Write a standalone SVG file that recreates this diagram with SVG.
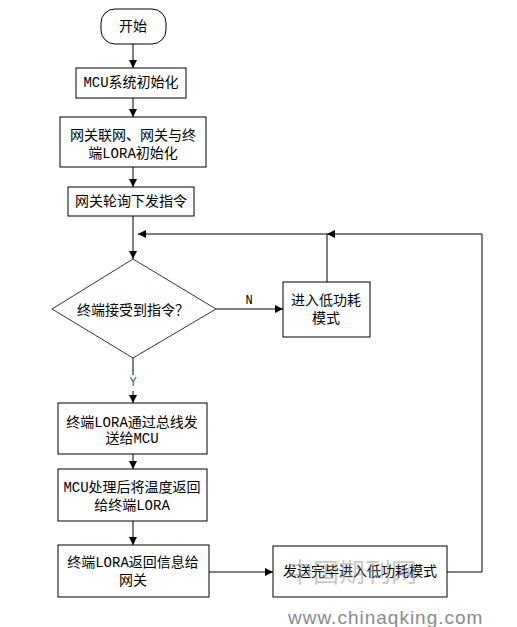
<svg xmlns="http://www.w3.org/2000/svg" width="517" height="627" viewBox="0 0 517 627">
<defs>
<marker id="ah" viewBox="0 0 8 8" refX="8" refY="4" markerWidth="8" markerHeight="8" markerUnits="userSpaceOnUse" orient="auto">
<path d="M0,0 L8,4 L0,8 z" fill="#000"/>
</marker>
</defs>
<style>
.box{fill:#fff;stroke:#000;stroke-width:1}
.t{font-family:"Liberation Mono","Noto Sans CJK SC",monospace;font-size:14px;fill:#000;text-anchor:middle;dominant-baseline:central}
.ln{fill:none;stroke:#000;stroke-width:1}
.lbl{font-family:"Liberation Mono",monospace;font-size:12px;text-anchor:middle;dominant-baseline:central}
.wm{font-family:"Liberation Sans","Noto Sans CJK SC",sans-serif;fill:#8a8a8a}
</style>
<rect width="517" height="627" fill="#fff"/>
<g id="connectors">
<line class="ln" x1="133" y1="44" x2="133" y2="68" marker-end="url(#ah)"/>
<line class="ln" x1="133" y1="98" x2="133" y2="117" marker-end="url(#ah)"/>
<line class="ln" x1="133" y1="167" x2="133" y2="187" marker-end="url(#ah)"/>
<line class="ln" x1="133" y1="216" x2="133" y2="259" marker-end="url(#ah)"/>
<line class="ln" x1="216" y1="309" x2="283" y2="309" marker-end="url(#ah)"/>
<line class="ln" x1="133" y1="358" x2="133" y2="403" marker-end="url(#ah)"/>
<line class="ln" x1="133" y1="454" x2="133" y2="469" marker-end="url(#ah)"/>
<line class="ln" x1="133" y1="521" x2="133" y2="545" marker-end="url(#ah)"/>
<line class="ln" x1="208" y1="572" x2="273" y2="572" marker-end="url(#ah)"/>
<polyline class="ln" points="447,572 482,572 482,234 327,234" marker-end="url(#ah)"/>
<polyline class="ln" points="327,282 327,234 138,234" marker-end="url(#ah)"/>
<rect x="244" y="295" width="11" height="13" fill="#fff"/>
<text class="lbl" x="249" y="301" fill="#000">N</text>
<rect x="127" y="375" width="12" height="16" fill="#fff"/>
<text class="lbl" x="133" y="383" fill="#1f5f99">Y</text>
</g>
<g id="start">
<rect class="box" x="101" y="9" width="65" height="35" rx="14" ry="14"/>
<text class="t" x="133" y="27">开始</text>
</g>
<g id="mcu-init">
<rect class="box" x="76" y="68" width="110" height="30"/>
<text class="t" x="131" y="83">MCU系统初始化</text>
</g>
<g id="gw-init">
<rect class="box" x="60" y="117" width="146" height="50"/>
<text class="t" x="133" y="136">网关联网、网关与终</text>
<text class="t" x="133" y="154">端LORA初始化</text>
</g>
<g id="poll">
<rect class="box" x="68" y="187" width="126" height="29"/>
<text class="t" x="131" y="202">网关轮询下发指令</text>
</g>
<g id="decision">
<polygon points="133,259 216,309 133,358 52,309" fill="#fff" stroke="#333" stroke-width="1"/>
<text class="t" x="133" y="311">终端接受到指令？</text>
</g>
<g id="lowpower">
<rect class="box" x="283" y="282" width="87" height="55"/>
<text class="t" x="326" y="301">进入低功耗</text>
<text class="t" x="326" y="319">模式</text>
</g>
<g id="send-mcu">
<rect class="box" x="58" y="403" width="149" height="51"/>
<text class="t" x="132" y="423">终端LORA通过总线发</text>
<text class="t" x="132" y="439">送给MCU</text>
</g>
<g id="mcu-proc">
<rect class="box" x="58" y="469" width="149" height="52"/>
<text class="t" x="132" y="488">MCU处理后将温度返回</text>
<text class="t" x="132" y="506">给终端LORA</text>
</g>
<g id="return-gw">
<rect class="box" x="58" y="545" width="151" height="52"/>
<text class="t" x="133" y="563">终端LORA返回信息给</text>
<text class="t" x="133" y="581">网关</text>
</g>
<g id="send-done">
<rect class="box" x="273" y="546" width="174" height="51"/>
<text class="t" x="360" y="572">发送完毕进入低功耗模式</text>
</g>
<g id="watermark">
<text class="wm" x="352" y="573" font-size="26" text-anchor="middle" dominant-baseline="central" opacity="0.45" font-family="Noto Sans CJK SC">中国期刊网</text>
<text class="wm" x="288" y="624" font-size="19" letter-spacing="1">www.chinaqking.com</text>
</g>
</svg>
